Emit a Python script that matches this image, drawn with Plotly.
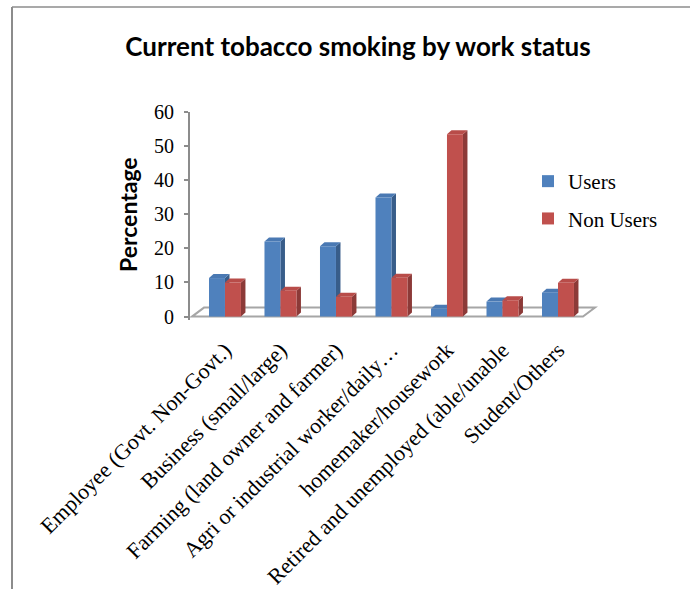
import plotly.graph_objects as go

# Work-status categories and smoking percentages
categories = [
    "Employee (Govt. Non-Govt.)",
    "Business (small/large)",
    "Farming (land owner and farmer)",
    "Agri or industrial worker/daily…",
    "homemaker/housework",
    "Retired and unemployed (able/unable",
    "Student/Others",
]
users = [11.3, 22.0, 20.6, 34.9, 2.3, 4.4, 7.0]
non_users = [10.0, 7.6, 5.8, 11.4, 53.5, 4.8, 9.9]
y_ticks = [0, 10, 20, 30, 40, 50, 60]

series = [
    ("Users", users, "#4F81BD", "#385D8A", "#4A79B3"),
    ("Non Users", non_users, "#C0504D", "#8C3A38", "#B84C49"),
]

W, H = 690, 589
ML, MR, MT, MB = 190, 90, 112, 269
X_RANGE = [-0.63, 6.757]
Y_RANGE = [-1, 60]
plot_w = W - ML - MR
plot_h = H - MT - MB
px_x = plot_w / (X_RANGE[1] - X_RANGE[0])   # pixels per category unit
px_y = plot_h / (Y_RANGE[1] - Y_RANGE[0])   # pixels per percentage point

BAR_W = 0.288          # width of one bar in category units
DX = 4.5 / px_x        # depth offset of bar sides (x)
DY = 4.0 / px_y        # depth offset of bar tops (y)

xs = list(range(len(categories)))
fig = go.Figure()
shapes = []

for i, (name, vals, front, side, top) in enumerate(series):
    fig.add_trace(go.Bar(
        x=xs, y=vals, name=name, marker=dict(color=front, line=dict(width=0)),
        legendgroup=name, hoverinfo="y+name",
    ))
    offset = (i - 0.5) * BAR_W
    for c, v in zip(xs, vals):
        left = c + offset - BAR_W / 2
        right = c + offset + BAR_W / 2
        # side face
        shapes.append(dict(
            type="path", xref="x", yref="y", layer="below",
            path=f"M{right},0 L{right},{v} L{right + DX},{v + DY} L{right + DX},{DY} Z",
            fillcolor=side, line=dict(width=0),
        ))
        # top face
        shapes.append(dict(
            type="path", xref="x", yref="y", layer="below",
            path=f"M{left},{v} L{left + DX},{v + DY} L{right + DX},{v + DY} L{right},{v} Z",
            fillcolor=top, line=dict(width=0),
        ))

# Floor of the 3-D plot area
fx0 = X_RANGE[0] + 2 / px_x
fx1 = X_RANGE[0] + (583 - ML) / px_x
fdx = 12 / px_x
fdy = 9 / px_y
shapes.insert(0, dict(
    type="path", xref="x", yref="y", layer="below",
    path=f"M{fx0},0 L{fx1},0 L{fx1 + fdx},{fdy} L{fx0 + fdx},{fdy} Z",
    fillcolor="rgba(0,0,0,0)", line=dict(color="#A6A6A6", width=2),
))

# Outer frame lines (top and left edges)
def paper_x(px):
    return (px - ML) / plot_w

def paper_y(py):
    return 1 - (py - MT) / plot_h

shapes.append(dict(type="line", xref="paper", yref="paper",
                   x0=paper_x(12), x1=paper_x(W + 5), y0=paper_y(7), y1=paper_y(7),
                   line=dict(color="#8C8C8C", width=1.5)))
shapes.append(dict(type="line", xref="paper", yref="paper",
                   x0=paper_x(12), x1=paper_x(12), y0=paper_y(7), y1=paper_y(H + 5),
                   line=dict(color="#8C8C8C", width=2)))

fig.update_layout(
    width=W, height=H,
    margin=dict(l=ML, r=MR, t=MT, b=MB, autoexpand=False),
    paper_bgcolor="white", plot_bgcolor="rgba(0,0,0,0)",
    barmode="group", bargap=1 - 2 * BAR_W, bargroupgap=0,
    title=dict(
        text="<b>Current tobacco smoking by work status</b>",
        x=358 / W, xref="container", xanchor="center",
        y=1 - 47 / H, yref="container", yanchor="middle",
        font=dict(family="Lato", size=26, color="black"),
    ),
    xaxis=dict(
        range=X_RANGE, tickmode="array", tickvals=xs, ticktext=categories,
        tickangle=-45, showgrid=False, zeroline=False, showline=False, ticks="",
        tickfont=dict(family="Liberation Serif", size=22, color="black"),
        ticklabelstandoff=12, automargin=False,
    ),
    yaxis=dict(
        range=Y_RANGE, tickmode="array", tickvals=y_ticks,
        showgrid=False, zeroline=False, showline=True,
        linecolor="#8C8C8C", linewidth=2, ticks="outside", ticklen=4,
        tickcolor="#8C8C8C", tickwidth=1.5,
        tickfont=dict(family="Liberation Serif", size=20, color="black"),
        ticklabelstandoff=6, automargin=False,
    ),
    legend=dict(
        x=paper_x(528), y=paper_y(161), xanchor="left", yanchor="top",
        font=dict(family="Liberation Serif", size=21, color="black"),
        tracegroupgap=7, bgcolor="rgba(0,0,0,0)", itemwidth=30,
    ),
    shapes=shapes,
    annotations=[dict(
        text="<b>Percentage</b>", textangle=-90,
        xref="paper", yref="paper", x=paper_x(128), y=paper_y(215),
        xanchor="center", yanchor="middle", showarrow=False,
        font=dict(family="Lato", size=23, color="black"),
    )],
)

fig.write_html("out.html")
